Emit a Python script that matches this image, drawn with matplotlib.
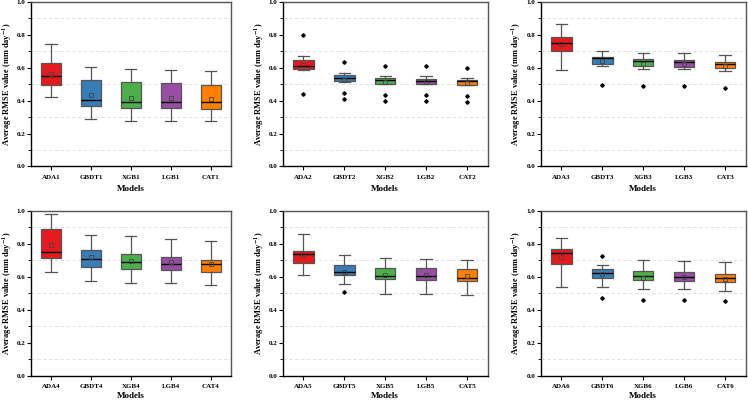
import matplotlib
matplotlib.use('Agg')
import matplotlib.pyplot as plt
from matplotlib.ticker import MultipleLocator, FormatStrFormatter

plt.rcParams['font.family'] = 'Liberation Serif'
plt.rcParams['font.weight'] = 'bold'
plt.rcParams['mathtext.fontset'] = 'stix'
plt.rcParams['mathtext.default'] = 'bf'

colors = ['#E41A1C', '#377EB8', '#4DAF4A', '#984EA3', '#FF7F00']

# each row: whislo, q1, med, q3, whishi, mean
labels1 = ['ADA1', 'GBDT1', 'XGB1', 'LGB1', 'CAT1']
stats1 = [[0.425, 0.495, 0.548, 0.632, 0.745, 0.560],
          [0.287, 0.367, 0.407, 0.528, 0.606, 0.433],
          [0.276, 0.357, 0.395, 0.513, 0.592, 0.419],
          [0.276, 0.357, 0.395, 0.510, 0.586, 0.417],
          [0.275, 0.347, 0.391, 0.497, 0.580, 0.413]]
fliers1 = [[], [], [], [], []]

labels2 = ['ADA2', 'GBDT2', 'XGB2', 'LGB2', 'CAT2']
stats2 = [[0.588, 0.593, 0.610, 0.648, 0.670, 0.617],
          [0.516, 0.518, 0.538, 0.555, 0.568, 0.526],
          [0.501, 0.503, 0.526, 0.538, 0.552, 0.512],
          [0.501, 0.503, 0.520, 0.532, 0.550, 0.512],
          [0.496, 0.498, 0.518, 0.528, 0.540, 0.508]]
fliers2 = [[0.80, 0.438], [0.636, 0.448, 0.41], [0.612, 0.435, 0.40],
           [0.61, 0.435, 0.40], [0.598, 0.428, 0.392]]

labels3 = ['ADA3', 'GBDT3', 'XGB3', 'LGB3', 'CAT3']
stats3 = [[0.585, 0.700, 0.752, 0.786, 0.867, 0.742],
          [0.610, 0.625, 0.657, 0.667, 0.705, 0.639],
          [0.593, 0.610, 0.643, 0.653, 0.690, 0.626],
          [0.590, 0.607, 0.637, 0.650, 0.687, 0.623],
          [0.580, 0.597, 0.623, 0.637, 0.677, 0.613]]
fliers3 = [[], [0.497], [0.487], [0.487], [0.476]]

labels4 = ['ADA4', 'GBDT4', 'XGB4', 'LGB4', 'CAT4']
stats4 = [[0.627, 0.714, 0.753, 0.892, 0.980, 0.795],
          [0.576, 0.659, 0.710, 0.765, 0.856, 0.720],
          [0.564, 0.647, 0.692, 0.740, 0.850, 0.698],
          [0.560, 0.639, 0.680, 0.720, 0.830, 0.690],
          [0.552, 0.631, 0.675, 0.704, 0.817, 0.680]]
fliers4 = [[], [], [], [], []]

labels5 = ['ADA5', 'GBDT5', 'XGB5', 'LGB5', 'CAT5']
stats5 = [[0.613, 0.682, 0.738, 0.757, 0.862, 0.732],
          [0.556, 0.613, 0.627, 0.671, 0.730, 0.630],
          [0.497, 0.588, 0.607, 0.655, 0.712, 0.608],
          [0.497, 0.582, 0.602, 0.653, 0.708, 0.608],
          [0.489, 0.572, 0.594, 0.645, 0.702, 0.602]]
fliers5 = [[], [0.505], [], [], []]

labels6 = ['ADA6', 'GBDT6', 'XGB6', 'LGB6', 'CAT6']
stats6 = [[0.540, 0.676, 0.745, 0.766, 0.835, 0.719],
          [0.540, 0.595, 0.623, 0.646, 0.674, 0.615],
          [0.525, 0.580, 0.607, 0.636, 0.705, 0.595],
          [0.525, 0.576, 0.601, 0.629, 0.699, 0.599],
          [0.511, 0.568, 0.591, 0.615, 0.688, 0.587]]
fliers6 = [[], [0.725, 0.473], [0.462], [0.462], [0.450]]

panels = [(labels1, stats1, fliers1), (labels2, stats2, fliers2), (labels3, stats3, fliers3),
          (labels4, stats4, fliers4), (labels5, stats5, fliers5), (labels6, stats6, fliers6)]

fig = plt.figure(figsize=(7.48, 4.01), dpi=100)
W, H = 748.0, 401.0
lefts = [31, 283, 541]
widths = [199.5, 204.5, 204.5]
bottoms = [234.5, 25.5]
ylab_x = [-0.085, -0.082, -0.088]

for i, (labels, stats, fliers) in enumerate(panels):
    r, c = divmod(i, 3)
    ax = fig.add_axes([lefts[c] / W, bottoms[r] / H, widths[c] / W, 164.5 / H])
    bx = []
    for lab, s, f in zip(labels, stats, fliers):
        bx.append(dict(label=lab, whislo=s[0], q1=s[1], med=s[2], q3=s[3],
                       whishi=s[4], mean=s[5], fliers=f))
    res = ax.bxp(bx, positions=range(1, 6), widths=0.5, capwidths=0.28,
                 patch_artist=True, showmeans=True,
                 boxprops=dict(edgecolor='#555555', linewidth=0.9),
                 whiskerprops=dict(color='#555555', linewidth=0.9),
                 capprops=dict(color='#555555', linewidth=0.9),
                 medianprops=dict(color='black', linewidth=1.0),
                 meanprops=dict(marker='s', markersize=2.5, markerfacecolor='none',
                                markeredgecolor='#444444', markeredgewidth=0.6),
                 flierprops=dict(marker='D', markersize=1.8, markerfacecolor='black',
                                 markeredgecolor='black'))
    for patch, col in zip(res['boxes'], colors):
        patch.set_facecolor(col)

    ax.set_xlim(0.5, 5.5)
    ax.set_ylim(0, 1.0)
    ax.yaxis.set_major_locator(MultipleLocator(0.2))
    ax.yaxis.set_major_formatter(FormatStrFormatter('%.1f'))
    ax.set_yticks([0.1, 0.3, 0.5, 0.7, 0.9], minor=True)
    ax.grid(axis='y', which='minor', linestyle=(0, (4, 3)), color='#dddddd', linewidth=0.6)
    ax.tick_params(axis='both', which='major', labelsize=5, length=3, width=0.8,
                   direction='out', pad=1.2)
    ax.tick_params(axis='x', which='major', pad=3)
    ax.tick_params(axis='y', which='minor', length=2, width=0.6, direction='out')
    for sp in ax.spines.values():
        sp.set_color('#555555')
        sp.set_linewidth(1.0)
    ax.spines['left'].set_color('black')
    ax.spines['bottom'].set_color('black')
    ax.set_xlabel('Models', fontsize=6.5, fontweight='bold', labelpad=4 if r == 0 else 2.5)
    ax.set_ylabel(r'Average RMSE value (mm day$^{-1}$)', fontsize=6.0, fontweight='bold')
    ax.yaxis.set_label_coords(ylab_x[c], 0.5)

fig.savefig('out.png', dpi=100)
